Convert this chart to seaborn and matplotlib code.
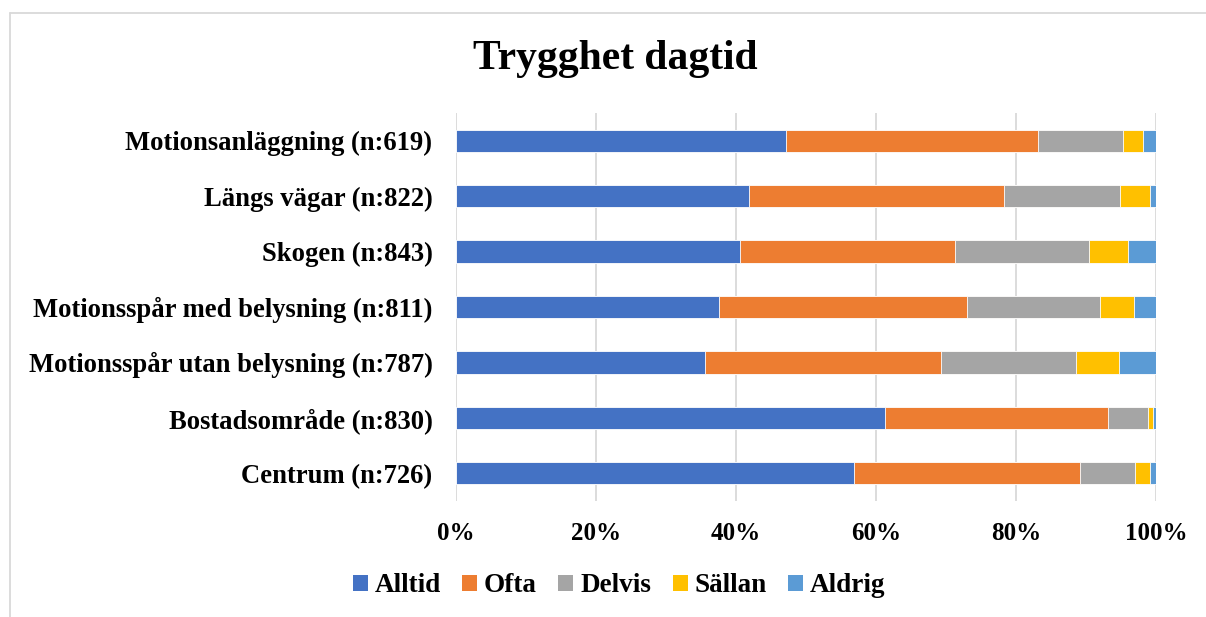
import numpy as np
import pandas as pd
import matplotlib.pyplot as plt
import seaborn as sns
from matplotlib.lines import Line2D
from matplotlib.patches import Patch

omraden = ["Motionsanläggning (n:619)", "Längs vägar (n:822)", "Skogen (n:843)",
           "Motionsspår med belysning (n:811)", "Motionsspår utan belysning (n:787)",
           "Bostadsområde (n:830)", "Centrum (n:726)"]
svar = ["Alltid", "Ofta", "Delvis", "Sällan", "Aldrig"]
alltid = [47.2, 41.8, 40.6, 37.5, 35.5, 61.3, 56.9]
ofta = [35.9, 36.5, 30.7, 35.5, 33.8, 31.8, 32.2]
delvis = [12.2, 16.6, 19.1, 19.0, 19.2, 5.7, 7.9]
sallan = [2.8, 4.3, 5.6, 4.8, 6.2, 0.8, 2.2]
aldrig = [1.9, 0.8, 4.0, 3.2, 5.3, 0.4, 0.8]
farger = ["#4472c4", "#ed7d31", "#a5a5a5", "#ffc000", "#5b9bd5"]

sns.set_style("white")
plt.rcParams["font.family"] = ["Liberation Serif", "DejaVu Serif"]
plt.rcParams["font.weight"] = "bold"
plt.rcParams["text.color"] = "black"
plt.rcParams["xtick.color"] = "black"
plt.rcParams["ytick.color"] = "black"

df = pd.DataFrame({"omrade": omraden, "Alltid": alltid, "Ofta": ofta,
                   "Delvis": delvis, "Sällan": sallan, "Aldrig": aldrig})
kum = df[svar].cumsum(axis=1)

fig = plt.figure(figsize=(12.06, 6.17), dpi=100)
ax = fig.add_axes([456 / 1206, 1 - 501 / 617, 700 / 1206, 388 / 617])

# stapla genom att rita kumulativa summor bakifrån
for s, c in reversed(list(zip(svar, farger))):
    sns.barplot(x=kum[s] / 100, y=df["omrade"], color=c, width=0.4,
                edgecolor="white", linewidth=0.6, saturation=1, ax=ax)

ax.set_xlim(0, 1.0)
ax.set_xticks(np.arange(0, 1.01, 0.2))
ax.set_xticklabels([f"{int(round(t * 100))}%" for t in np.arange(0, 1.01, 0.2)])
ax.set_xlabel("")
ax.set_ylabel("")
ax.grid(axis="x", color="#d9d9d9", linewidth=1.3)
ax.set_axisbelow(True)
for sp in ax.spines.values():
    sp.set_visible(False)
ax.tick_params(axis="both", length=0)
ax.tick_params(axis="x", pad=15, labelsize=18, labelcolor="black")
ax.tick_params(axis="y", pad=17, labelsize=19.2, labelcolor="black")
for t in ax.get_xticklabels() + ax.get_yticklabels():
    t.set_fontweight("bold")

fig.text(615 / 1206, 1 - 59 / 617, "Trygghet dagtid", ha="center", va="center",
         fontsize=30, fontweight="bold", color="black")

handles = [Patch(facecolor=c, edgecolor="none") for c in farger]
fig.legend(handles, svar, loc="center", bbox_to_anchor=(619 / 1206, 1 - 586 / 617),
           ncol=5, frameon=False, handlelength=0.55, handleheight=0.55,
           handletextpad=0.25, columnspacing=0.8, prop={"weight": "bold", "size": 19.5})

# ram runt diagrammet
fig.add_artist(Line2D([10 / 1206, 1], [1 - 13 / 617, 1 - 13 / 617], color="#d9d9d9", lw=1.3))
fig.add_artist(Line2D([10 / 1206, 10 / 1206], [0, 1 - 13 / 617], color="#d9d9d9", lw=1.3))

fig.savefig("out.png", dpi=100)
